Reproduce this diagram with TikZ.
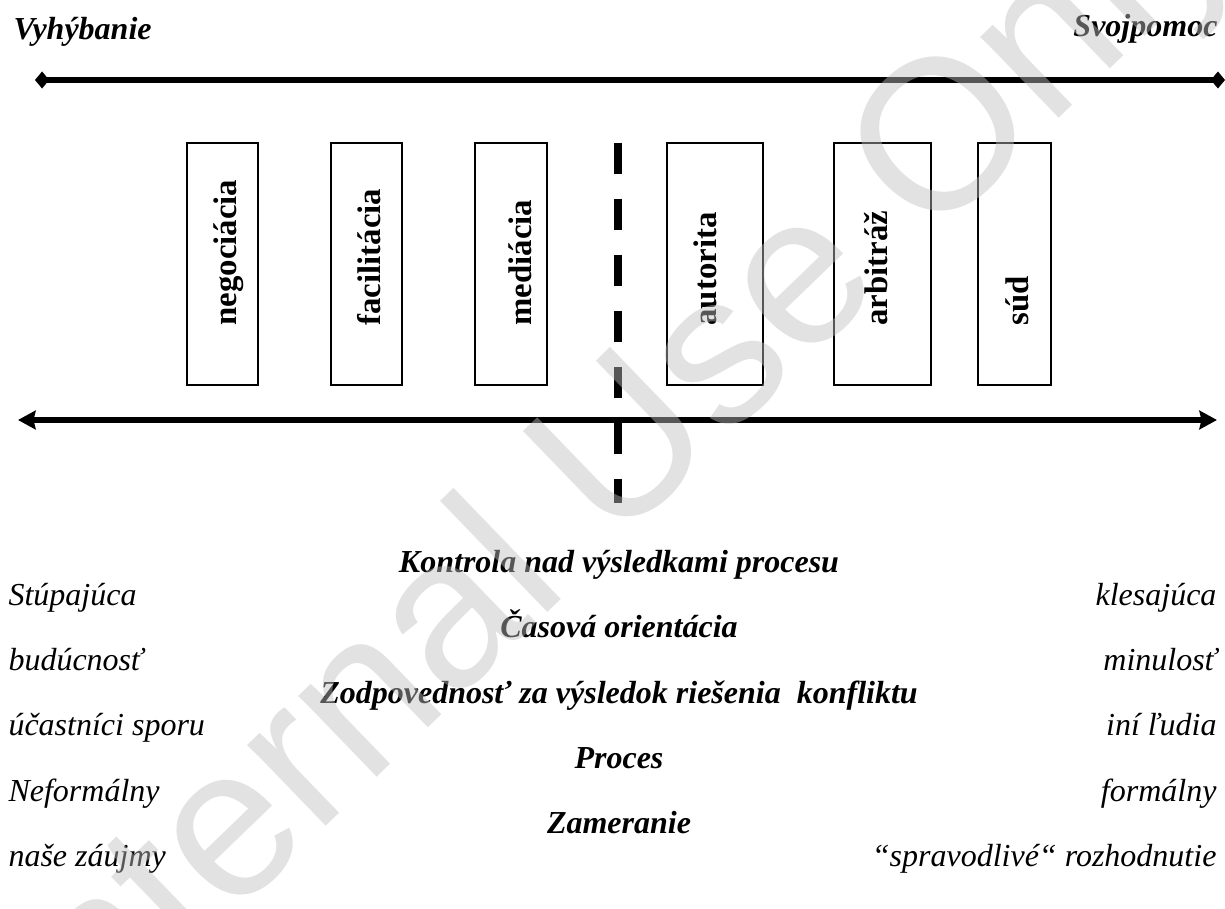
\documentclass[tikz,border=0pt]{standalone}
\usepackage{fontspec}
\setmainfont{Liberation Serif}
\newfontfamily\markfont{Liberation Sans}
\usetikzlibrary{arrows.meta}
\begin{document}
\begin{tikzpicture}[x=0.375pt,y=-0.375pt,
  axisline/.style={line width=2.25pt},
  methodbox/.style={draw, line width=0.6pt, inner sep=0pt, minimum height=90.75pt},
  methodtext/.style={inner sep=0pt, rotate=90, anchor=base west, font=\fontsize{12.3}{14}\selectfont\bfseries},
  headtext/.style={inner sep=0pt, font=\fontsize{12}{14}\selectfont\bfseries\itshape},
  sidetext/.style={inner sep=0pt, font=\fontsize{12}{14}\selectfont\itshape},
  divider/.style={line width=3pt, dash pattern=on 11.6pt off 9.4pt}
]
\useasboundingbox (0,0) rectangle (1225,909);

% end labels of the scale
\node[headtext, anchor=base west] (avoid) at (13,40) {Vyhýbanie};
\node[headtext, anchor=base east] (self) at (1218,37) {Svojpomoc};

% upper scale with diamond ends
\coordinate (topL) at (35,80);
\coordinate (topR) at (1225,80);
\draw[axisline, {Diamond[length=5.3pt,width=6.4pt]}-{Diamond[length=5.3pt,width=6.4pt]}] (topL) -- (topR);

% method boxes
\node[methodbox, minimum width=26.6pt] (neg) at (222.5,264) {};
\node[methodbox, minimum width=26.6pt] (fac) at (366.5,264) {};
\node[methodbox, minimum width=27pt]   (med) at (511,264) {};
\node[methodbox, minimum width=36pt]   (aut) at (715,264) {};
\node[methodbox, minimum width=36.4pt] (arb) at (882.5,264) {};
\node[methodbox, minimum width=27.4pt] (sud) at (1014.5,264) {};

\node[methodtext] (negt) at (236,326) {negociácia};
\node[methodtext] (fact) at (380,326) {facilitácia};
\node[methodtext] (medt) at (531,326) {mediácia};
\node[methodtext] (autt) at (716,326) {autorita};
\node[methodtext] (arbt) at (887,326) {arbitráž};
\node[methodtext] (sudt) at (1028,326) {súd};

% lower scale with arrow ends
\coordinate (botL) at (18,420);
\coordinate (botR) at (1217,420);
\draw[axisline, {Stealth[length=6.6pt,width=7pt,inset=0.8pt]}-{Stealth[length=6.6pt,width=7pt,inset=0.8pt]}] (botL) -- (botR);

% dividing line
\coordinate (divT) at (618,143);
\coordinate (divB) at (618,503);
\draw[divider] (divT) -- (divB);

% criteria table
\node[headtext, anchor=base] (c1) at (619,572) {Kontrola nad výsledkami procesu};
\node[sidetext, anchor=base west] (l1) at (8,605) {Stúpajúca};
\node[sidetext, anchor=base east] (r1) at (1217,605) {klesajúca};
\node[headtext, anchor=base] (c2) at (619,637) {Časová orientácia};
\node[sidetext, anchor=base west] (l2) at (8,670) {budúcnosť};
\node[sidetext, anchor=base east] (r2) at (1217,670) {minulosť};
\node[headtext, anchor=base] (c3) at (619,703) {Zodpovednosť za výsledok riešenia\ \ konfliktu};
\node[sidetext, anchor=base west] (l3) at (8,735) {účastníci sporu};
\node[sidetext, anchor=base east] (r3) at (1217,735) {iní ľudia};
\node[headtext, anchor=base] (c4) at (619,768) {Proces};
\node[sidetext, anchor=base west] (l4) at (8,801) {Neformálny};
\node[sidetext, anchor=base east] (r4) at (1217,801) {formálny};
\node[headtext, anchor=base] (c5) at (619,833) {Zameranie};
\node[sidetext, anchor=base west] (l5) at (8,866) {naše záujmy};
\node[sidetext, anchor=base east] (r5) at (1217,866) {“spravodlivé“ rozhodnutie};

% watermark laid over the page
\begin{scope}
\clip (0,0) rectangle (1225,909);
\node[inner sep=0pt, rotate=44, text=black!25, text opacity=0.45,
      font=\fontsize{80}{88}\selectfont\markfont] (mark) at (614,472) {Internal Use Only};
\end{scope}
\end{tikzpicture}
\end{document}
